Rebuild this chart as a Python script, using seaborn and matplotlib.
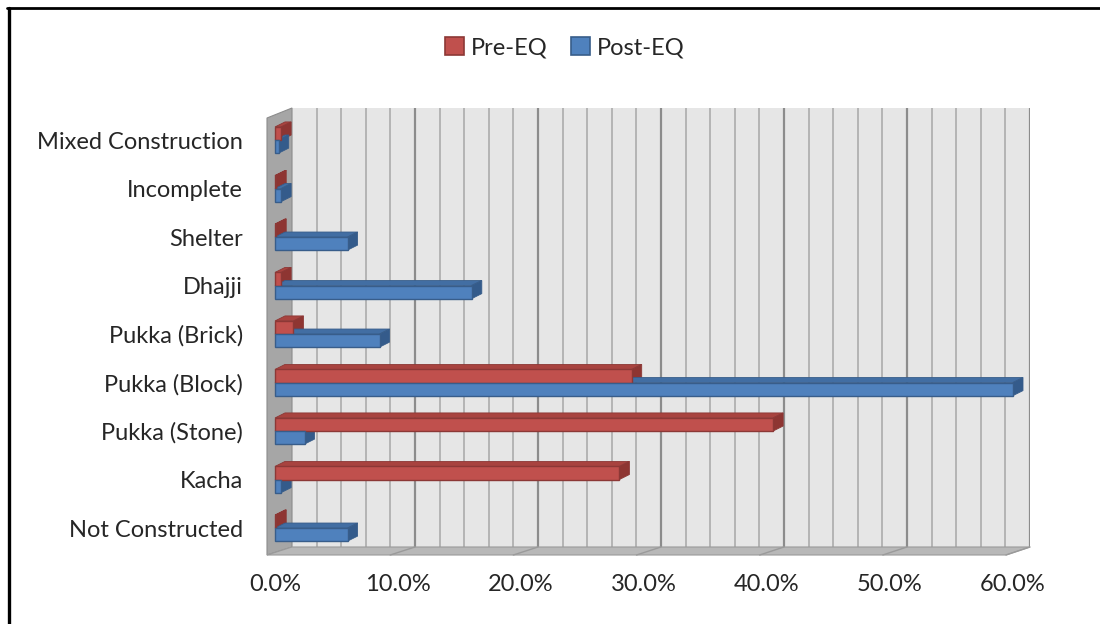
import matplotlib

matplotlib.use("Agg")
import matplotlib.pyplot as plt
import numpy as np
import pandas as pd
import seaborn as sns
from matplotlib.lines import Line2D
from matplotlib.patches import Polygon, Patch
from matplotlib.ticker import FuncFormatter, MultipleLocator

# ---- data (share of houses, %) ----
categories = [
    "Mixed Construction", "Incomplete", "Shelter", "Dhajji", "Pukka (Brick)",
    "Pukka (Block)", "Pukka (Stone)", "Kacha", "Not Constructed",
]
pre_eq = [0.5, 0.1, 0.1, 0.5, 1.5, 29.0, 40.5, 28.0, 0.1]
post_eq = [0.3, 0.5, 5.9, 16.0, 8.5, 60.0, 2.4, 0.5, 5.9]
series = ["Pre-EQ", "Post-EQ"]

FRONT = {"Pre-EQ": "#c0504d", "Post-EQ": "#4f81bd"}
EDGE = {"Pre-EQ": "#8c3836", "Post-EQ": "#385d8a"}
TOP = {"Pre-EQ": "#a8433f", "Post-EQ": "#426ea3"}
SIDE = {"Pre-EQ": "#8e3532", "Post-EQ": "#345b8b"}

sns.set_style("white")
plt.rcParams["font.family"] = ["Lato", "DejaVu Sans"]

W, H = 1100, 624
fig = plt.figure(figsize=(W / 100, H / 100), dpi=100)


def px_rect(x0, y0, x1, y1):
    # pixel box (top-left origin) -> figure fraction rect
    return [x0 / W, 1 - y1 / H, (x1 - x0) / W, (y1 - y0) / H]


def fpt(x, y):
    return (x / W, 1 - y / H)


# back wall with gridlines
wall = fig.add_axes(px_rect(292, 108, 1030, 547))
wall.set_facecolor("#e6e6e6")
wall.set_xlim(0, 60)
wall.set_ylim(0, 1)
for v in np.arange(2, 61, 2):
    major = v % 10 == 0
    wall.axvline(v, color="#8c8c8c" if major else "#b4b4b4", lw=1.6 if major else 1.4)
wall.set_xticks([])
wall.set_yticks([])
for s in wall.spines.values():
    s.set_visible(False)

# left wall and floor
left_wall = Polygon([fpt(267, 118), fpt(292, 108), fpt(292, 547), fpt(267, 555)],
                    closed=True, facecolor="#a6a6a6", edgecolor="#8c8c8c", lw=0.8,
                    transform=fig.transFigure, clip_on=False, zorder=3)
floor = Polygon([fpt(267, 555), fpt(292, 547), fpt(1030, 547), fpt(1006, 555)],
                closed=True, facecolor="#b8b8b8", edgecolor="#9a9a9a", lw=0.8,
                transform=fig.transFigure, clip_on=False, zorder=3)
wall.add_patch(left_wall)
wall.add_patch(floor)
for v in range(10, 61, 10):
    xb = 292 + v / 60 * 738
    xf = 267 + v / 60 * 739
    wall.add_line(Line2D([xf / W, xb / W], [1 - 555 / H, 1 - 547 / H], color="#9a9a9a",
                         lw=1.0, transform=fig.transFigure, clip_on=False, zorder=4))

# front plane with the bars
ax = fig.add_axes(px_rect(275, 118, 1013, 553))
ax.patch.set_alpha(0)

df = pd.DataFrame({
    "category": categories * 2,
    "series": [series[0]] * len(categories) + [series[1]] * len(categories),
    "value": pre_eq + post_eq,
})
sns.barplot(data=df, y="category", x="value", hue="series", hue_order=series,
            order=categories, orient="h", palette=FRONT, width=0.54,
            saturation=1, ax=ax, legend=False)

ax.set_xlim(0, 60)
ax.set_ylim(8.515, -0.454)

# fake 3-D: edge colours, top face and end cap for each bar
dx, dy = 10 / W, 5 / H
to_fig = ax.transData + fig.transFigure.inverted()
for i, bar in enumerate(ax.patches):
    name = series[i // len(categories)]
    bar.set_edgecolor(EDGE[name])
    bar.set_linewidth(1.0)
    bar.set_zorder(5)
    bar.set_clip_on(False)
    x0, y0 = bar.get_x(), bar.get_y()
    x1, y1 = x0 + bar.get_width(), y0 + bar.get_height()
    (fx0, fy_top), (fx1, fy_bot) = to_fig.transform([(x0, y0), (x1, y1)])
    top = Polygon([(fx0, fy_top), (fx1, fy_top), (fx1 + dx, fy_top + dy), (fx0 + dx, fy_top + dy)],
                  closed=True, facecolor=TOP[name], edgecolor=EDGE[name], lw=0.6,
                  transform=fig.transFigure, clip_on=False, zorder=4)
    side = Polygon([(fx1, fy_top), (fx1 + dx, fy_top + dy), (fx1 + dx, fy_bot + dy), (fx1, fy_bot)],
                   closed=True, facecolor=SIDE[name], edgecolor=EDGE[name], lw=0.6,
                   transform=fig.transFigure, clip_on=False, zorder=4)
    ax.add_patch(top)
    ax.add_patch(side)

ax.xaxis.set_major_locator(MultipleLocator(10))
ax.xaxis.set_major_formatter(FuncFormatter(lambda v, _: f"{v:.1f}%"))
ax.tick_params(axis="x", length=0, pad=15, labelsize=17)
ax.tick_params(axis="y", length=0, pad=23, labelsize=17)
ax.set_xlabel("")
ax.set_ylabel("")
for s in ax.spines.values():
    s.set_visible(False)

# legend
handles = [Patch(facecolor=FRONT[s], edgecolor=EDGE[s], lw=1.2) for s in series]
fig.legend(handles, series, loc="center", bbox_to_anchor=(565 / W, 1 - 48 / H), ncol=2,
           frameon=False, fontsize=17, handlelength=0.8, handleheight=0.8,
           handletextpad=0.3, columnspacing=1.0)

# outer frame (left and top only)
fig.add_artist(Line2D([8.5 / W, 8.5 / W], [0, 1 - 8 / H], color="black", lw=2.4,
                      transform=fig.transFigure))
fig.add_artist(Line2D([7 / W, 1], [1 - 8 / H, 1 - 8 / H], color="black", lw=2.0,
                      transform=fig.transFigure))

fig.savefig("out.png", dpi=100)
